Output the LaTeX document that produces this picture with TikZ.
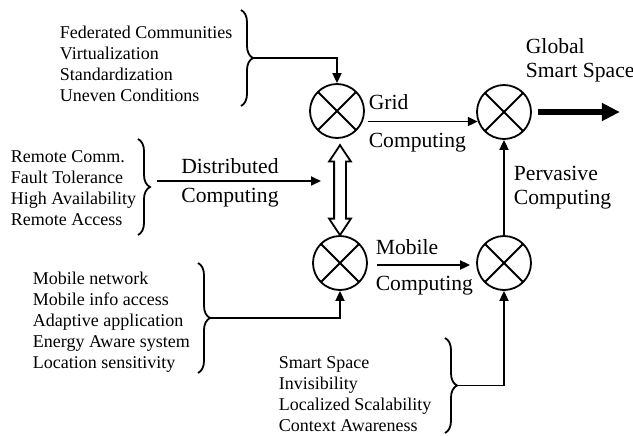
\documentclass[tikz,border=0pt]{standalone}
\usepackage{fontspec}
\setmainfont{Liberation Serif}
\usepackage{tikz}
\usetikzlibrary{arrows.meta,calc,positioning,shapes.arrows,decorations.pathreplacing}
\tikzstyle{xnode}=[circle, draw, minimum size=27pt, inner sep=0pt, path picture={\draw (path picture bounding box.north west) -- (path picture bounding box.south east) (path picture bounding box.north east) -- (path picture bounding box.south west);}]

\begin{document}
\begin{tikzpicture}[x=0.5pt,y=-0.5pt,line width=0.9pt,font=\fontsize{9}{10.5}\selectfont,
	>={Triangle[length=5pt,width=4.5pt]},
	txt/.style={align=left,inner sep=0pt,anchor=west},
	lbl/.style={font=\fontsize{10.8}{12}\selectfont},
	two/.style={align=left,font=\fontsize{10.8}{12}\selectfont},
	brc/.style={decorate,decoration={brace,amplitude=6pt}},
	fat/.style={line width=3pt,-{Triangle[length=9pt,width=8.5pt]}},
	dbl/.style={draw,fill=white,double arrow,rotate=90,minimum height=45pt,minimum width=0pt,inner sep=2.5pt,double arrow head extend=2.5pt,double arrow tip angle=67}]
	\useasboundingbox (0,0) rectangle (633,435);
	\node[xnode] (grid) at (337,111) {};
	\node[xnode] (global) at (504,112) {};
	\node[xnode] (mobile) at (340,263) {};
	\node[xnode] (pervasive) at (504,263) {};
	\node[txt] (gridlist) at (59,64) {Federated Communities\\Virtualization\\Standardization\\Uneven Conditions};
	\node[txt] (distlist) at (10,188) {Remote Comm.\\Fault Tolerance\\High Availability\\Remote Access};
	\node[txt] (moblist) at (32,322) {Mobile network\\Mobile info access\\Adaptive application\\Energy Aware system\\Location sensitivity};
	\node[txt] (pervlist) at (278,394) {Smart Space\\Invisibility\\Localized Scalability\\Context Awareness};
	\draw[brc] (241,10) -- (241,106) coordinate[midway,xshift=6pt] (gtip);
	\draw[brc] (138,139) -- (138,235) coordinate[midway,xshift=6pt] (dtip);
	\draw[brc] (198,263) -- (198,373) coordinate[midway,xshift=6pt] (mtip);
	\draw[brc] (445,338) -- (445,433) coordinate[midway,xshift=6pt] (ptip);
	\node[dbl] (link) at ($(mobile.north)+(0,-45)$) {};
	\draw[->] (gtip) -| (grid.north);
	\draw[->] ([shift={(3.5pt,3pt)}]dtip) -- ++(164,0) node[lbl,pos=0.445,above,inner sep=3pt] {Distributed} node[lbl,pos=0.445,below,inner sep=3pt] {Computing};
	\draw[->] (mtip) -| (mobile.south);
	\draw[->] (ptip) -| (pervasive.south);
	\draw[->] ($(grid.east |- global.200)+(3,0)$) -- (global.200) node[lbl,pos=0,anchor=south west,inner xsep=0pt,inner ysep=5.5pt] {Grid} node[lbl,pos=0,anchor=north west,inner xsep=0pt,inner ysep=5.5pt] {Computing};
	\draw[->] ($(mobile.east)+(9,2)$) -- ($(pervasive.west)+(-6,2)$) node[lbl,pos=0,anchor=south west,inner xsep=0pt,inner ysep=4.5pt,xshift=-1pt] {Mobile} node[lbl,pos=0,anchor=north west,inner xsep=0pt,inner ysep=5pt,xshift=-1pt] {Computing};
	\draw[->] (pervasive) -- (global) node[two,midway,right,inner sep=4.5pt] {Pervasive\\Computing};
	\draw[fat] ($(global.east)+(6,0)$) -- ++(82,0);
	\node[two,anchor=west,inner sep=0pt] (gss) at (525,60) {Global\\Smart Space};
\end{tikzpicture}
\end{document}
